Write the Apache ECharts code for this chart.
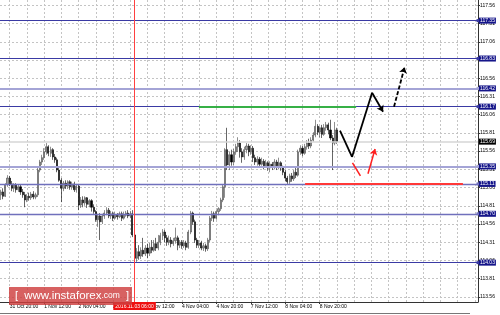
<!DOCTYPE html>
<html><head><meta charset="utf-8">
<script src="https://cdn.jsdelivr.net/npm/echarts@6/dist/echarts.min.js"></script>
<style>html,body{margin:0;padding:0;background:#fff}#c{width:500px;height:315px}</style>
</head><body><div id="c"></div>
<script>
// ---- data ----
const candles = [
[114.96,115.00,114.89,115.03],[115.00,114.94,114.90,115.05],[114.94,115.10,114.93,115.12],[115.10,115.19,115.07,115.23],
[115.19,115.11,115.08,115.22],[115.11,115.05,115.01,115.15],[115.05,115.10,115.00,115.12],[115.10,115.03,114.99,115.12],
[115.03,115.07,115.00,115.10],[115.07,115.00,114.96,115.10],[115.00,114.96,114.92,115.04],[114.96,114.89,114.79,115.00],
[114.89,114.94,114.86,114.97],[114.94,114.92,114.88,114.99],[114.92,114.97,114.89,115.00],[114.97,114.93,114.90,115.01],
[114.93,114.96,114.90,114.99],[114.96,115.30,114.93,115.33],[115.30,115.41,115.27,115.44],[115.41,115.47,115.37,115.51],
[115.47,115.55,115.44,115.60],[115.55,115.62,115.51,115.67],[115.62,115.53,115.49,115.64],[115.53,115.58,115.48,115.62],
[115.58,115.48,115.44,115.60],[115.48,115.44,115.40,115.52],[115.44,115.30,115.27,115.47],[115.30,115.16,115.14,115.33],
[115.16,115.05,114.86,115.19],[115.05,115.12,115.01,115.15],[115.12,115.08,115.04,115.16],[115.08,115.14,115.04,115.16],
[115.14,115.07,115.03,115.16],[115.07,115.11,115.03,115.14],[115.11,115.03,115.00,115.14],[115.03,115.08,114.99,115.11],
[115.08,114.82,114.75,115.11],[114.82,114.89,114.78,114.93],[114.89,114.85,114.79,114.94],[114.85,114.92,114.81,114.94],
[114.92,114.83,114.78,114.93],[114.83,114.88,114.79,114.90],[114.88,114.79,114.73,114.90],[114.79,114.73,114.70,114.83],
[114.73,114.62,114.59,114.75],[114.62,114.67,114.52,114.70],[114.67,114.59,114.34,114.71],[114.59,114.67,114.56,114.70],
[114.67,114.71,114.63,114.75],[114.71,114.75,114.68,114.79],[114.75,114.67,114.64,114.78],[114.67,114.70,114.63,114.74],
[114.70,114.64,114.60,114.73],[114.64,114.68,114.62,114.73],[114.68,114.66,114.62,114.71],[114.66,114.70,114.64,114.73],
[114.70,114.64,114.60,114.73],[114.64,114.68,114.62,114.73],[114.68,114.71,114.66,114.74],[114.71,114.67,114.64,114.75],
[114.67,114.70,114.64,114.74],[114.70,114.41,114.38,114.75],[114.41,114.09,114.00,114.44],[114.09,114.18,114.04,114.23],
[114.18,114.12,114.07,114.27],[114.12,114.20,114.08,114.24],[114.20,114.15,114.11,114.37],[114.15,114.23,114.12,114.27],
[114.23,114.16,114.09,114.29],[114.16,114.24,114.12,114.30],[114.24,114.20,114.16,114.34],[114.20,114.29,114.18,114.34],
[114.29,114.23,114.19,114.37],[114.23,114.31,114.20,114.41],[114.31,114.40,114.27,114.44],[114.40,114.45,114.34,114.49],
[114.45,114.37,114.31,114.48],[114.37,114.31,114.26,114.41],[114.31,114.34,114.27,114.40],[114.34,114.29,114.24,114.38],
[114.29,114.33,114.26,114.37],[114.33,114.37,114.29,114.51],[114.37,114.27,114.20,114.40],[114.27,114.31,114.23,114.34],
[114.31,114.26,114.22,114.34],[114.26,114.30,114.23,114.34],[114.30,114.24,114.20,114.33],[114.24,114.45,114.22,114.48],
[114.45,114.71,114.42,114.74],[114.71,114.59,114.55,114.73],[114.59,114.34,114.30,114.62],[114.34,114.27,114.23,114.37],
[114.27,114.30,114.23,114.34],[114.30,114.23,114.20,114.33],[114.23,114.26,114.19,114.30],[114.26,114.22,114.18,114.29],
[114.22,114.34,114.19,114.37],[114.34,114.64,114.31,114.67],[114.64,114.70,114.60,114.74],[114.70,114.64,114.59,114.73],
[114.64,114.73,114.62,114.75],[114.73,114.77,114.68,114.79],[114.77,114.89,114.74,114.92],[114.89,115.07,114.86,115.10],
[115.07,115.58,114.92,115.60],[115.58,115.37,115.30,115.88],[115.37,115.51,115.30,115.55],[115.51,115.41,115.36,115.58],
[115.41,115.55,115.37,115.59],[115.55,115.62,115.51,115.66],[115.62,115.67,115.55,115.75],[115.67,115.55,115.47,115.71],
[115.55,115.48,115.40,115.60],[115.48,115.58,115.44,115.62],[115.58,115.63,115.53,115.67],[115.63,115.55,115.49,115.66],
[115.55,115.60,115.51,115.64],[115.60,115.47,115.41,115.63],[115.47,115.41,115.37,115.51],[115.41,115.45,115.36,115.49],
[115.45,115.38,115.34,115.48],[115.38,115.42,115.36,115.47],[115.42,115.36,115.31,115.45],[115.36,115.40,115.33,115.44],
[115.40,115.33,115.29,115.42],[115.33,115.38,115.27,115.42],[115.38,115.34,115.30,115.41],[115.34,115.41,115.31,115.45],
[115.41,115.36,115.30,115.44],[115.36,115.40,115.31,115.47],[115.40,115.33,115.29,115.42],[115.33,115.27,115.23,115.36],
[115.27,115.19,115.15,115.30],[115.19,115.14,115.11,115.22],[115.14,115.22,115.11,115.25],[115.22,115.18,115.14,115.26],
[115.18,115.27,115.15,115.30],[115.27,115.23,115.19,115.33],[115.23,115.55,115.21,115.58],[115.55,115.60,115.51,115.64],
[115.60,115.53,115.49,115.63],[115.53,115.62,115.51,115.66],[115.62,115.67,115.58,115.71],[115.67,115.63,115.59,115.73],
[115.63,115.71,115.60,115.75],[115.71,115.78,115.69,115.82],[115.78,115.90,115.75,115.99],[115.90,115.82,115.78,115.93],
[115.82,115.88,115.75,115.90],[115.88,115.79,115.74,115.92],[115.79,115.88,115.77,115.93],[115.88,115.92,115.84,115.96],
[115.92,115.85,115.79,115.95],[115.85,115.74,115.71,115.99],[115.74,115.67,115.30,115.78],[115.67,115.85,115.64,115.96],
[115.85,115.69,115.66,115.88]
];
const levels = [117.35, 116.83, 116.42, 116.17, 115.35, 115.11, 114.70, 114.03];
const levelKinds = ['dark','dark','light','dark','light','mid','mid','dark'];
const currentPrice = 115.69;
const yTicks = [113.56,113.81,114.06,114.31,114.56,114.81,115.06,115.31,115.56,115.81,116.06,116.31,116.56,116.81,117.06,117.31,117.56];
const xGridIdx = [4,12,20,28,36,44,52,60,68,76,84,92,100,108,116,124,132,140,148,156,164,172,180,188,196,204,212,220];
const xLabelIdx = [4,20,36,52,68,84,100,116,132,148];
const markerIdx = 62;
const markerLabel = '2016.11.03 06:00';
const greenSeg = [[91.9,116.17],[164.9,116.17]];
const redSeg = [[141.2,115.11],[214.5,115.11]];
const blackPath = [[157.4,115.84],[163.0,115.48],[172.3,116.36],[177.4,116.10]];
const blackDash = [[182.5,116.17],[187.4,116.71]];
const redPath = [[163.2,115.40],[166.9,115.22]];
const redArrow = [[170.4,115.25],[173.7,115.59]];
const N = 222;
const Y_MIN = 113.49, Y_MAX = 117.633;

// ---- categories (hourly, weekends skipped) ----
const MON = ['Jan','Feb','Mar','Apr','May','Jun','Jul','Aug','Sep','Oct','Nov','Dec'];
const categories = [];
let t = Date.UTC(2016, 9, 31, 16);
while (categories.length < N) {
  const d = new Date(t);
  const wd = d.getUTCDay();
  if (wd !== 0 && wd !== 6) {
    const hh = String(d.getUTCHours()).padStart(2,'0');
    categories.push(d.getUTCDate() + ' ' + MON[d.getUTCMonth()] + ' ' + hh + ':00');
  }
  t += 3600000;
}

const FONT = 'Liberation Sans';
const colors = {dark:['#3a3aa4',1], light:['#a4a4d6',2], mid:['#7070bc',1.3]};

function segs(pts, color, width, type, arrowLast) {
  const out = [];
  for (let i = 0; i < pts.length - 1; i++) {
    const last = arrowLast && i === pts.length - 2;
    out.push([
      {coord: pts[i], symbol: 'none', lineStyle: {color, width, type}},
      {coord: pts[i+1], symbol: last ? 'arrow' : 'none', symbolSize: 6}
    ]);
  }
  return out;
}
function boxLabel(text, bg) {
  return {show: true, position: 'end', distance: 1, formatter: text,
    color: '#fff', backgroundColor: bg, fontSize: 5, fontFamily: FONT,
    padding: [1,1,0,1], lineHeight: 5};
}

const mlData = [];
levels.forEach((v, k) => {
  const c = colors[levelKinds[k]];
  mlData.push([
    {coord: [-0.5, v], symbol: 'none', lineStyle: {color: c[0], width: c[1], type: 'solid'},
     label: boxLabel(v.toFixed(2), '#15158a')},
    {coord: [N - 0.5, v], symbol: 'rect', symbolSize: 3, itemStyle: {color: '#2a2a90'}}
  ]);
});
mlData.push([
  {coord: [-0.5, currentPrice], symbol: 'none', lineStyle: {color: '#d6d6d6', width: 1.5, type: 'solid'},
   label: boxLabel(currentPrice.toFixed(2), '#000')},
  {coord: [N - 0.5, currentPrice], symbol: 'none'}
]);
mlData.push([
  {coord: [markerIdx, Y_MIN], symbol: 'none', lineStyle: {color: '#ff4040', width: 1, type: 'solid'},
   label: {show: true, position: 'start', distance: 0, formatter: markerLabel,
     color: '#fff', backgroundColor: '#ee1111', fontSize: 5, fontFamily: FONT,
     padding: [2,2,1,2], lineHeight: 5}},
  {coord: [markerIdx, Y_MAX], symbol: 'none'}
]);
mlData.push(...segs(greenSeg, '#36b046', 2, 'solid', false));
mlData.push(...segs(redSeg, '#ff3838', 2, 'solid', false));
mlData.push(...segs(blackPath, '#000', 1.8, 'solid', true));
mlData.push(...segs(blackDash, '#000', 1.8, [4,2], true));
mlData.push(...segs(redPath, '#ff2020', 1.5, 'solid', false));
mlData.push(...segs(redArrow, '#ff2020', 1.5, 'solid', true));

const labelFn = (idx) => xLabelIdx.indexOf(idx) >= 0;

const chart = echarts.init(document.getElementById('c'), null, {renderer: 'canvas'});
chart.setOption({
  animation: false,
  backgroundColor: '#fff',
  grid: {left: 0, right: 22, top: 0, bottom: 13, containLabel: false},
  xAxis: [{
    type: 'category', data: categories, boundaryGap: true,
    axisLine: {show: true, onZero: false, lineStyle: {color: '#333', width: 1}},
    axisTick: {show: true, alignWithLabel: true, interval: labelFn, length: 2, lineStyle: {color: '#333'}},
    axisLabel: {interval: labelFn, align: 'left', fontSize: 5, margin: 2, color: '#000', fontFamily: FONT},
    splitLine: {show: false}
  }, {
    type: 'value', min: -0.5, max: N - 0.5, position: 'top',
    axisLine: {show: false, onZero: false}, axisLabel: {show: false},
    axisTick: {show: false, customValues: xGridIdx},
    splitLine: {show: true, lineStyle: {color: '#c4c4c4', type: [2,2], width: 1}}
  }],
  yAxis: {
    type: 'value', position: 'right', min: Y_MIN, max: Y_MAX, scale: true,
    axisLine: {show: true, onZero: false, lineStyle: {color: '#333', width: 1}},
    axisTick: {show: true, length: 2, customValues: yTicks, lineStyle: {color: '#333'}},
    axisLabel: {customValues: yTicks, formatter: v => v.toFixed(2), fontSize: 5, margin: 2, color: '#000', fontFamily: FONT},
    splitLine: {show: true, lineStyle: {color: '#c4c4c4', type: [2,2], width: 1}}
  },
  series: [{
    type: 'candlestick', data: candles, xAxisIndex: 0, yAxisIndex: 0, barWidth: 1.6,
    itemStyle: {color: '#a0a0a0', color0: '#000', borderColor: '#444', borderColor0: '#000', borderWidth: 0.6}
  }, {
    type: 'line', data: [], xAxisIndex: 1, yAxisIndex: 0, z: 5,
    markLine: {silent: true, animation: false, symbol: ['none','none'], label: {show: false}, data: mlData}
  }],
  graphic: [
    {type: 'line', shape: {x1: 0, y1: 313.5, x2: 470, y2: 313.5}, style: {stroke: '#777', lineWidth: 1}, z: 10},
    {type: 'rect', shape: {x: 9, y: 287, width: 123, height: 18}, style: {fill: 'rgba(206,62,62,0.82)'}, z: 100},
    {type: 'text', x: 15, y: 296, z: 101, style: {
      text: '[  {a|www.instaforex}{b|.com}  ]', fill: '#fff', font: '11px "Liberation Sans"', verticalAlign: 'middle',
      rich: {a: {fontSize: 11.5, fill: '#fff', fontFamily: FONT}, b: {fontSize: 8.5, fill: '#fff', fontFamily: FONT}}
    }}
  ]
});
</script>
</body></html>
